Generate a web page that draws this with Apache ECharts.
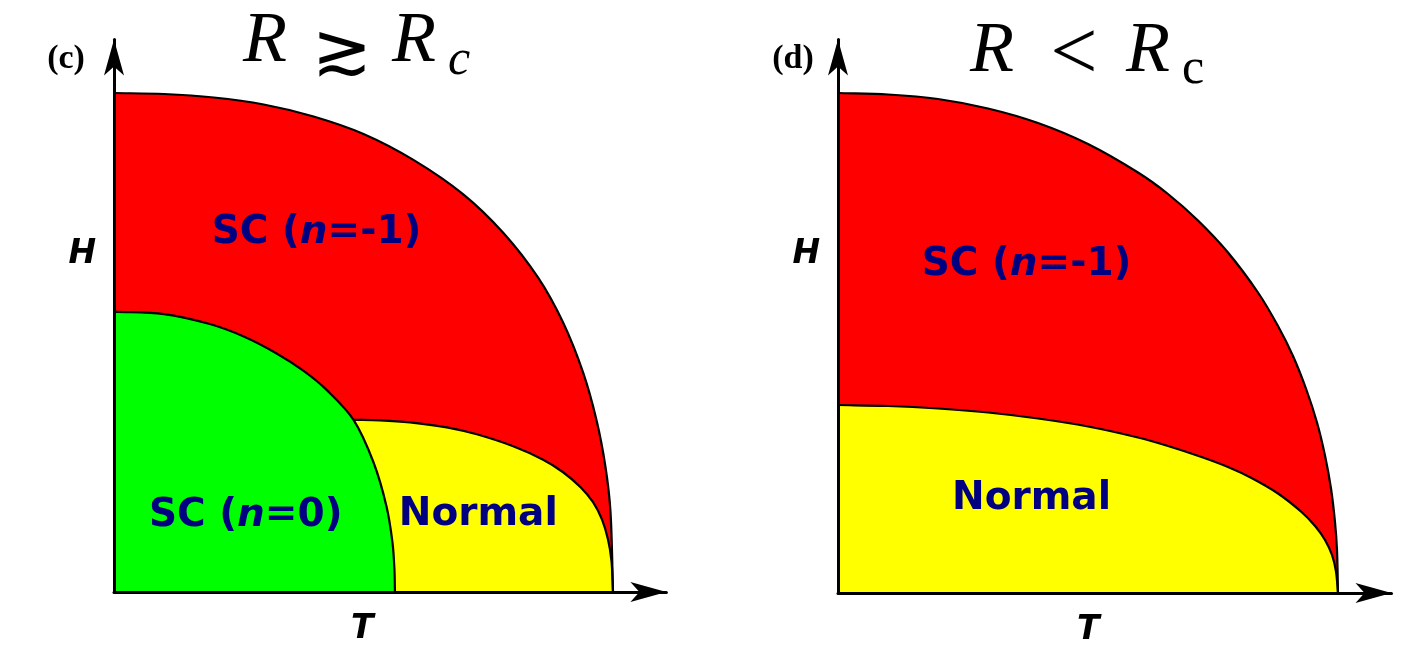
<!DOCTYPE html>
<html>
<head>
<meta charset="utf-8">
<script src="https://cdn.jsdelivr.net/npm/echarts@6/dist/echarts.min.js"></script>
<style>
  html, body { margin: 0; padding: 0; background: #ffffff; }
  #chart { width: 1422px; height: 654px; }
</style>
</head>
<body>
<div id="chart"></div>
<script>
// Phase boundaries as [T/Tc, H/Hc] points.
// Panel (c): R slightly above Rc
const outerC  = [[0,1],[0.1,0.998],[0.2,0.991],[0.3,0.977],[0.4,0.953],[0.5,0.918],[0.6,0.866],[0.7,0.797],[0.78,0.72],[0.85,0.63],[0.9,0.54],[0.94,0.44],[0.967,0.344],[0.985,0.25],[0.995,0.16],[1,0]];
const greenC  = [[0,0.562],[0.1,0.557],[0.192,0.537],[0.26,0.512],[0.326,0.478],[0.38,0.443],[0.426,0.405],[0.48,0.345],[0.52,0.26],[0.546,0.172],[0.558,0.1],[0.562,0.045],[0.563,0]];
const yellowC = [[0.48,0.345],[0.533,0.344],[0.593,0.34],[0.667,0.33],[0.727,0.316],[0.8,0.292],[0.86,0.265],[0.9,0.24],[0.935,0.21],[0.96,0.18],[0.978,0.145],[0.99,0.105],[0.997,0.062],[1,0]];
// Panel (d): R below Rc
const outerD  = [[0,1],[0.1,0.997],[0.2,0.988],[0.3,0.969],[0.4,0.94],[0.5,0.898],[0.6,0.841],[0.66,0.798],[0.72,0.745],[0.78,0.681],[0.84,0.601],[0.88,0.534],[0.91,0.474],[0.937,0.406],[0.958,0.341],[0.974,0.275],[0.986,0.209],[0.994,0.142],[0.998,0.086],[1,0]];
const yellowD = [[0,0.376],[0.1,0.374],[0.2,0.369],[0.3,0.361],[0.4,0.349],[0.5,0.333],[0.6,0.311],[0.66,0.294],[0.727,0.272],[0.78,0.252],[0.827,0.23],[0.88,0.199],[0.927,0.162],[0.955,0.133],[0.974,0.106],[0.988,0.076],[0.996,0.043],[1,0]];

// Region names and axis names
const regionsC = ['SC (n=-1)', 'SC (n=0)', 'Normal'];
const regionsD = ['SC (n=-1)', 'Normal'];
const axisNames = ['T', 'H'];

const RED = '#ff0000', GREEN = '#00ff00', YELLOW = '#ffff00', INK = '#000080';

// Smooth curve through pixel points (tangent from neighbours, handles a third of the chord)
function splinePath(pts) {
  const n = pts.length;
  const tan = pts.map(function (p, i) {
    const a = pts[Math.max(i - 1, 0)], b = pts[Math.min(i + 1, n - 1)];
    const dx = b[0] - a[0], dy = b[1] - a[1];
    const L = Math.hypot(dx, dy) || 1;
    return [dx / L, dy / L];
  });
  let d = 'M' + pts[0][0] + ',' + pts[0][1];
  for (let i = 0; i < n - 1; i++) {
    const p = pts[i], q = pts[i + 1];
    const h = Math.hypot(q[0] - p[0], q[1] - p[1]) / 3;
    d += ' C' + (p[0] + tan[i][0] * h) + ',' + (p[1] + tan[i][1] * h) + ' ' +
         (q[0] - tan[i + 1][0] * h) + ',' + (q[1] - tan[i + 1][1] * h) + ' ' + q[0] + ',' + q[1];
  }
  return d;
}

// Filled region under a boundary, down to H = 0
function fill(curve, color, gi) {
  return {
    type: 'custom', xAxisIndex: gi, yAxisIndex: gi, data: curve, silent: true, z: 2, clip: false,
    renderItem: function (params, api) {
      if (params.dataIndex !== 0) return null;
      const pts = curve.map(function (p) { return api.coord(p); });
      const a = api.coord([curve[curve.length - 1][0], 0]);
      const b = api.coord([curve[0][0], 0]);
      const d = splinePath(pts) + ' L' + a[0] + ',' + a[1] + ' L' + b[0] + ',' + b[1] + ' Z';
      return { type: 'path', shape: { pathData: d }, style: { fill: color, stroke: null } };
    }
  };
}
// Black phase boundary
function edge(curve, gi) {
  return {
    type: 'custom', xAxisIndex: gi, yAxisIndex: gi, data: curve, silent: true, z: 3, clip: false,
    renderItem: function (params, api) {
      if (params.dataIndex !== 0) return null;
      const pts = curve.map(function (p) { return api.coord(p); });
      return { type: 'path', shape: { pathData: splinePath(pts) },
               style: { fill: null, stroke: '#000000', lineWidth: 2.2 } };
    }
  };
}
function regionLabel(name, at, gi) {
  return {
    type: 'scatter', xAxisIndex: gi, yAxisIndex: gi, silent: true, z: 5,
    symbolSize: 0, itemStyle: { color: 'transparent' },
    data: [{ value: at, name: name }],
    label: {
      show: true, position: 'inside',
      formatter: function (p) { return p.name.replace('(n', '({i|n}'); },
      color: INK, textBorderWidth: 0, textBorderColor: 'transparent', opacity: 1,
      fontFamily: 'DejaVu Sans', fontWeight: 'bold', fontSize: 39,
      rich: { i: { color: INK, fontFamily: 'DejaVu Sans', fontWeight: 'bold', fontStyle: 'italic', fontSize: 39 } }
    }
  };
}

const nameFont = { color: '#000000', fontFamily: 'DejaVu Sans', fontWeight: 'bold', fontStyle: 'italic', fontSize: 33 };
const axisLine = { show: true, onZero: false, symbol: ['none', 'arrow'], symbolSize: [15, 36], lineStyle: { color: '#000000', width: 3 } };
function xAxisOf(gi, shift) {
  return {
    gridIndex: gi, type: 'value', min: 0, max: 1.107, z: 10, axisLine: axisLine,
    axisTick: { show: false }, axisLabel: { show: false }, splitLine: { show: false },
    name: axisNames[0], nameLocation: 'middle', nameGap: 21,
    nameTextStyle: Object.assign({ padding: [0, shift, 0, 0] }, nameFont)
  };
}
function yAxisOf(gi, shift) {
  return {
    gridIndex: gi, type: 'value', min: 0, max: 1.107, z: 10, axisLine: axisLine,
    axisTick: { show: false }, axisLabel: { show: false }, splitLine: { show: false },
    name: '{h|' + axisNames[1] + '}', nameLocation: 'middle', nameRotate: 0, nameGap: 18,
    nameTextStyle: Object.assign({ rich: { h: Object.assign({ padding: [0, 0, shift, 0] }, nameFont) } }, nameFont)
  };
}

function txt(x, y, text, family, size, opts) {
  return {
    type: 'text', x: x, y: y, silent: true, z: 20,
    style: Object.assign({
      text: text, fontFamily: family, fontSize: size, fill: '#000000',
      align: 'left', verticalAlign: 'middle'
    }, opts || {})
  };
}

const option = {
  animation: false,
  backgroundColor: '#ffffff',
  grid: [
    { left: 114, top: 39.6, width: 552.4, height: 552.4 },
    { left: 838, top: 39.5, width: 553.5, height: 553.5 }
  ],
  xAxis: [xAxisOf(0, 56), xAxisOf(1, 53)],
  yAxis: [yAxisOf(0, 122), yAxisOf(1, 123)],
  series: [
    // panel (c): fills first, then the boundaries on top
    fill(outerC, RED, 0),
    fill(yellowC, YELLOW, 0),
    fill(greenC, GREEN, 0),
    edge(outerC, 0),
    edge(yellowC, 0),
    edge(greenC, 0),
    regionLabel(regionsC[0], [0.406, 0.72], 0),
    regionLabel(regionsC[1], [0.264, 0.153], 0),
    regionLabel(regionsC[2], [0.73, 0.154], 0),
    // panel (d)
    fill(outerD, RED, 1),
    fill(yellowD, YELLOW, 1),
    edge(outerD, 1),
    edge(yellowD, 1),
    regionLabel(regionsD[0], [0.377, 0.656], 1),
    regionLabel(regionsD[1], [0.387, 0.188], 1)
  ],
  graphic: [
    // panel tags
    txt(66, 59, '(c)', 'Liberation Serif', 34, { align: 'center', fontWeight: 'bold' }),
    txt(793, 59, '(d)', 'Liberation Serif', 34, { align: 'center', fontWeight: 'bold' }),
    // R ≳ R_c
    txt(243, 42, 'R', 'Liberation Serif', 72, { fontStyle: 'italic' }),
    txt(342, 55, '≳', 'DejaVu Sans', 72, { align: 'center' }),
    txt(392, 42, 'R', 'Liberation Serif', 72, { fontStyle: 'italic' }),
    txt(448, 61, 'c', 'Liberation Serif', 50, { fontStyle: 'italic' }),
    // R < R_c
    txt(970, 52, 'R', 'Liberation Serif', 72, { fontStyle: 'italic' }),
    txt(1074, 57, '<', 'Liberation Serif', 84, { align: 'center' }),
    txt(1126, 52, 'R', 'Liberation Serif', 72, { fontStyle: 'italic' }),
    txt(1182, 70, 'c', 'Liberation Serif', 50)
  ]
};

const chart = echarts.init(document.getElementById('chart'), null, { renderer: 'canvas' });
chart.setOption(option);
</script>
</body>
</html>
